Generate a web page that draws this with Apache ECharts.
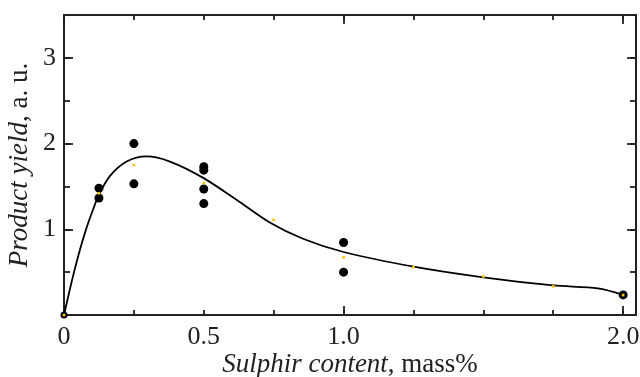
<!DOCTYPE html>
<html>
<head>
<meta charset="utf-8">
<script src="https://cdn.jsdelivr.net/npm/echarts@6/dist/echarts.min.js"></script>
<style>
  html, body { margin: 0; padding: 0; background: #fff; }
  #chart { width: 640px; height: 377px; }
</style>
</head>
<body>
<div id="chart"></div>
<script>
// measured points (black dots)
const pointX = [0, 0.125, 0.125, 0.25, 0.25, 0.5, 0.5, 0.5, 0.5, 1.0, 1.0, 2.0];
const pointY = [0, 1.48, 1.365, 2.0, 1.53, 1.73, 1.69, 1.47, 1.30, 0.846, 0.50, 0.234];

// averaged values (small yellow dots)
const meanX = [0, 0.125, 0.25, 0.5, 0.75, 1.0, 1.25, 1.5, 1.75, 2.0];
const meanY = [0, 1.42, 1.75, 1.54, 1.11, 0.675, 0.561, 0.45, 0.335, 0.234];

// fitted curve
const curveX = [0, 0.015, 0.033, 0.057, 0.081, 0.105, 0.126, 0.164, 0.224, 0.295, 0.379, 0.498, 0.617, 0.736, 0.855, 1.0, 1.25, 1.5, 1.75, 1.91, 2.0];
const curveY = [0, 0.215, 0.462, 0.76, 1.02, 1.24, 1.41, 1.62, 1.79, 1.85, 1.79, 1.60, 1.345, 1.08, 0.89, 0.735, 0.565, 0.44, 0.345, 0.31, 0.235];

const xLabels = { 0: "0", 0.5: "0.5", 1: "1.0", 2: "2.0" };
const yLabels = { 1: "1", 2: "2", 3: "3" };

const zip = (a, b) => a.map((v, i) => [v, b[i]]);

const FONT = "Liberation Serif";
const INK = "#222";
const X_MAX = 2.046;
const Y_MAX = 3.5;

const lineStyle = { color: INK, width: 2 };
const tickStyle = { color: INK, width: 1.8 };

const nameStyle = {
  fontFamily: FONT,
  fontSize: 27,
  color: INK,
  rich: { i: { fontFamily: FONT, fontSize: 27, fontStyle: "italic", color: INK } },
};

// an axis that only draws ticks; shifted into the plot so the ticks end on the frame
function tickAxis(position, max, interval, len) {
  return {
    type: "value",
    position,
    min: 0,
    max,
    interval,
    offset: -len,
    axisLine: { show: false, onZero: false },
    axisTick: { show: true, length: len, lineStyle: tickStyle },
    splitLine: { show: false },
    axisLabel: { show: false },
  };
}

function frameAxis(position, max, interval) {
  return {
    type: "value",
    position,
    min: 0,
    max,
    interval,
    axisLine: { show: true, onZero: false, lineStyle },
    axisTick: { show: false },
    splitLine: { show: false },
    axisLabel: { show: false },
  };
}

const chart = echarts.init(document.getElementById("chart"));

const xBottom = frameAxis("bottom", X_MAX, 0.5);
xBottom.axisLabel = {
  show: true,
  margin: 9,
  fontFamily: FONT,
  fontSize: 26,
  color: INK,
  formatter: (v) => (xLabels[v] !== undefined ? xLabels[v] : ""),
};
xBottom.name = "{i|Sulphir content}, mass%";
xBottom.nameLocation = "middle";
xBottom.nameGap = 36;
xBottom.nameMoveOverlap = false;
xBottom.nameTextStyle = nameStyle;

const yLeft = frameAxis("left", Y_MAX, 1);
yLeft.axisLabel = {
  show: true,
  margin: 8,
  fontFamily: FONT,
  fontSize: 26,
  color: INK,
  formatter: (v) => (yLabels[v] !== undefined ? yLabels[v] : ""),
};
yLeft.name = "{i|Product yield}, a. u.";
yLeft.nameLocation = "middle";
yLeft.nameGap = 31;
yLeft.nameMoveOverlap = false;
yLeft.nameTextStyle = nameStyle;

const option = {
  animation: false,
  grid: { left: 64, right: 4, top: 15, bottom: 62, containLabel: false, outerBoundsMode: "none" },
  xAxis: [
    xBottom,
    frameAxis("top", X_MAX, 1),
    tickAxis("bottom", X_MAX, 1, 9),
    tickAxis("bottom", X_MAX, 0.25, 5),
    tickAxis("top", X_MAX, 1, 9),
    tickAxis("top", X_MAX, 0.25, 5),
  ],
  yAxis: [
    yLeft,
    frameAxis("right", Y_MAX, 1),
    tickAxis("left", Y_MAX, 1, 9),
    tickAxis("left", Y_MAX, 0.5, 6),
    tickAxis("right", Y_MAX, 1, 9),
    tickAxis("right", Y_MAX, 0.5, 6),
  ],
  series: [
    {
      type: "line",
      xAxisIndex: 0,
      yAxisIndex: 0,
      data: zip(curveX, curveY),
      smooth: 0.3,
      showSymbol: false,
      symbol: "none",
      lineStyle: { color: "#000", width: 1.8 },
      clip: false,
      z: 2,
    },
    {
      type: "scatter",
      xAxisIndex: 0,
      yAxisIndex: 0,
      data: zip(pointX, pointY),
      symbol: "circle",
      symbolSize: (v) => (v[0] === 0 ? 7 : 9),
      itemStyle: { color: "#000", opacity: 1 },
      clip: false,
      z: 3,
    },
    {
      type: "scatter",
      xAxisIndex: 0,
      yAxisIndex: 0,
      data: zip(meanX, meanY),
      symbol: "circle",
      symbolSize: 3,
      itemStyle: { color: "#f5c400", opacity: 1 },
      clip: false,
      z: 4,
    },
  ],
};

chart.setOption(option);
</script>
</body>
</html>
